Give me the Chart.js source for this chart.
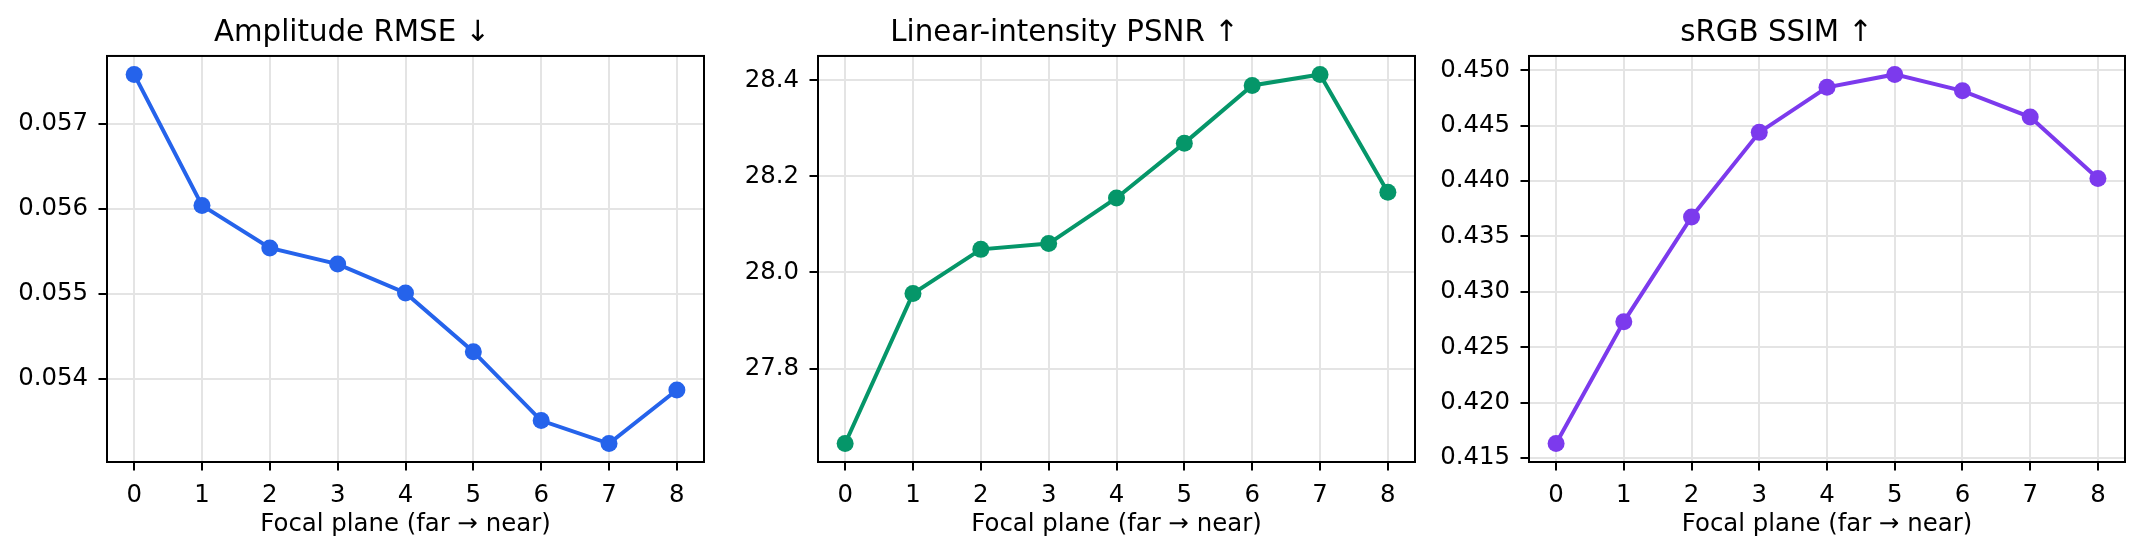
<!DOCTYPE html>
<html>
<head>
<meta charset="utf-8">
<script src="https://cdn.jsdelivr.net/npm/chart.js@4"></script>
<style>
  html, body { margin: 0; padding: 0; background: #fff; }
  body { width: 2142px; height: 553px; position: relative; overflow: hidden; }
  .panel { position: absolute; top: 0; height: 553px; }
</style>
</head>
<body>
<div class="panel" style="left:0px;width:714px"><canvas id="rmseChart"></canvas></div>
<div class="panel" style="left:714px;width:714px"><canvas id="psnrChart"></canvas></div>
<div class="panel" style="left:1428px;width:714px"><canvas id="ssimChart"></canvas></div>
<script>
// focal planes, far -> near
const planes = [0, 1, 2, 3, 4, 5, 6, 7, 8];

// values
const rmse = [0.05758, 0.05604, 0.05554, 0.05535, 0.05501, 0.05432, 0.05351, 0.05324, 0.05387];
const psnr = [27.644, 27.956, 28.048, 28.060, 28.155, 28.269, 28.389, 28.412, 28.167];
const ssim = [0.41631, 0.42731, 0.43676, 0.44439, 0.44846, 0.44962, 0.44814, 0.44577, 0.44022];

// y tick labels
const rmseTicks = [0.054, 0.055, 0.056, 0.057];
const psnrTicks = [27.8, 28.0, 28.2, 28.4];
const ssimTicks = [0.415, 0.420, 0.425, 0.430, 0.435, 0.440, 0.445, 0.450];

const FONT = 'DejaVu Sans';

// axes frame (all four spines)
const frame = {
  id: 'frame',
  afterDraw(chart) {
    const { ctx, chartArea: a } = chart;
    ctx.save();
    ctx.strokeStyle = '#000';
    ctx.lineWidth = 2;
    ctx.strokeRect(a.left, a.top, a.right - a.left, a.bottom - a.top);
    ctx.restore();
  }
};

function makeChart(id, title, values, yTicks, decimals, color, yWidth, padRight) {
  const lo = Math.min(...values), hi = Math.max(...values);
  const m = (hi - lo) * 0.05;
  const ctx = document.getElementById(id).getContext('2d');
  return new Chart(ctx, {
    type: 'line',
    data: {
      datasets: [{
        data: planes.map((p, i) => ({ x: p, y: values[i] })),
        borderColor: color,
        backgroundColor: color,
        borderWidth: 4,
        pointRadius: 8.5,
        pointBorderWidth: 0,
        pointBackgroundColor: color,
        tension: 0
      }]
    },
    options: {
      responsive: true,
      maintainAspectRatio: false,
      animation: false,
      devicePixelRatio: 1,
      layout: { padding: { left: 0, right: padRight, top: 0, bottom: 0 } },
      plugins: {
        legend: { display: false },
        tooltip: { enabled: false },
        title: {
          display: true,
          text: title,
          color: '#000',
          font: { family: FONT, size: 29.3, weight: 'normal' },
          padding: { top: 15.5, bottom: 5.3 }
        }
      },
      scales: {
        x: {
          type: 'linear',
          min: -0.4,
          max: 8.4,
          afterBuildTicks: s => { s.ticks = planes.map(v => ({ value: v })); },
          afterFit: s => { s.height = 91; },
          ticks: {
            color: '#000',
            font: { family: FONT, size: 24.4 },
            padding: 10.5,
            maxRotation: 0,
            callback: v => String(v)
          },
          grid: {
            color: '#e4e4e4',
            lineWidth: 2,
            tickColor: '#000',
            tickWidth: 2,
            tickLength: 8.5
          },
          border: { display: false },
          title: {
            display: true,
            text: 'Focal plane (far → near)',
            color: '#000',
            font: { family: FONT, size: 24.4 },
            padding: { top: 0, bottom: 13.4 }
          }
        },
        y: {
          type: 'linear',
          min: lo - m,
          max: hi + m,
          afterBuildTicks: s => { s.ticks = yTicks.map(v => ({ value: v })); },
          afterFit: s => { s.width = yWidth; },
          ticks: {
            color: '#000',
            font: { family: FONT, size: 24.4 },
            padding: 10.5,
            callback: v => v.toFixed(decimals)
          },
          grid: {
            color: '#e4e4e4',
            lineWidth: 2,
            tickColor: '#000',
            tickWidth: 2,
            tickLength: 8.5
          },
          border: { display: false }
        }
      }
    },
    plugins: [frame]
  });
}

makeChart('rmseChart', 'Amplitude RMSE ↓', rmse, rmseTicks, 3, '#2563eb', 107, 10);
makeChart('psnrChart', 'Linear-intensity PSNR ↑', psnr, psnrTicks, 1, '#059669', 104, 13);
makeChart('ssimChart', 'sRGB SSIM ↑', ssim, ssimTicks, 3, '#7c3aed', 101, 17);
</script>
</body>
</html>
